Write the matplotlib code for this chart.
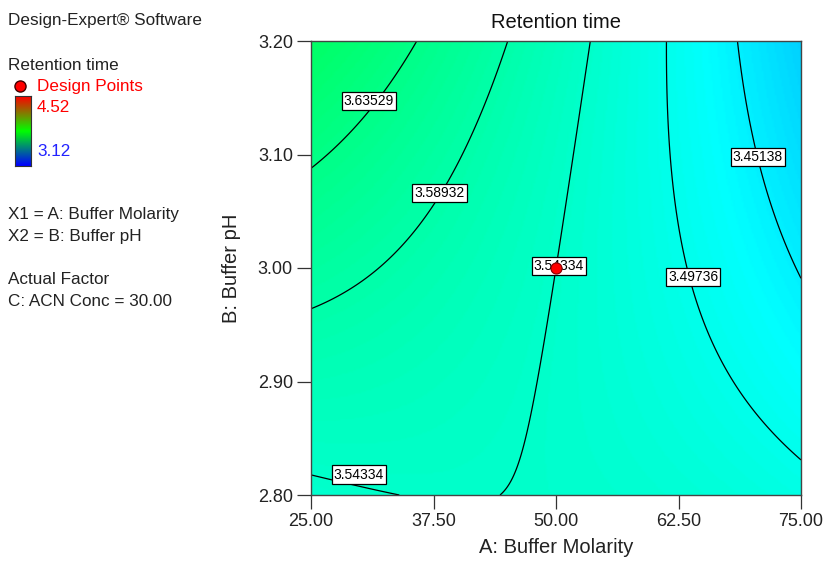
import numpy as np
import matplotlib
matplotlib.use("Agg")
import matplotlib.pyplot as plt
from matplotlib.colors import LinearSegmentedColormap

plt.rcParams['font.family'] = ['Liberation Sans', 'DejaVu Sans']

# ---- data ----
# Quadratic response-surface coefficients in coded units a=(A-50)/25, b=(B-3.00)/0.20
coef_names = ["b0", "A", "B", "AB", "A2", "B2"]
coef_values = [3.54334, -0.07645, 0.0111, -0.061, -0.0178, 0.0085]
contour_levels = [3.45138, 3.49736, 3.54334, 3.58932, 3.63529]
design_A = [50.0]
design_B = [3.00]
A_range = [25.0, 75.0]
B_range = [2.80, 3.20]
A_ticks = [25.0, 37.5, 50.0, 62.5, 75.0]
B_ticks = [2.80, 2.90, 3.00, 3.10, 3.20]
resp_low, resp_high = 3.12, 4.52
# label placements (layout)
label_levels = [3.63529, 3.58932, 3.54334, 3.49736, 3.45138, 3.54334]
label_pos = [(30.9, 3.147), (38.1, 3.066), (50.3, 3.002), (64.0, 2.992), (70.6, 3.098), (29.9, 2.818)]

W, H = 827, 564
fig = plt.figure(figsize=(W / 100, H / 100), dpi=100)
ax = fig.add_axes([311 / W, 1 - 495 / H, 490 / W, 454 / H])

A = np.linspace(A_range[0], A_range[1], 300)
B = np.linspace(B_range[0], B_range[1], 300)
AA, BB = np.meshgrid(A, B)
a = (AA - 50.0) / 25.0
b = (BB - 3.00) / 0.20
c = dict(zip(coef_names, coef_values))
Z = c["b0"] + c["A"] * a + c["B"] * b + c["AB"] * a * b + c["A2"] * a ** 2 + c["B2"] * b ** 2

surf_cmap = LinearSegmentedColormap.from_list(
    "de", ["#0000ff", "#00ffff", "#00ff00", "#ffff00", "#ff0000"])
ax.pcolormesh(AA, BB, Z, cmap=surf_cmap, vmin=resp_low, vmax=resp_high, shading="gouraud")
ax.contour(AA, BB, Z, levels=contour_levels, colors="black", linewidths=0.9)

for lev, (px, py) in zip(label_levels, label_pos):
    ax.text(px, py, f"{lev:.5f}", ha="center", va="center", fontsize=10, zorder=5,
            bbox=dict(boxstyle="square,pad=0.15", facecolor="white", edgecolor="black", linewidth=0.9))

ax.plot(design_A, design_B, "o", color="#ff0000", markeredgecolor="#800000",
        markersize=8, markeredgewidth=0.8, zorder=6)

ax.set_xlim(A_range)
ax.set_ylim(B_range)
ax.set_xticks(A_ticks)
ax.set_yticks(B_ticks)
ax.set_xticklabels([f"{t:.2f}" for t in A_ticks])
ax.set_yticklabels([f"{t:.2f}" for t in B_ticks])
ax.tick_params(direction="out", length=10, width=0.9, labelsize=13, colors="#333333",
               labelcolor="#222222", pad=3)
for s in ax.spines.values():
    s.set_color("#444444")
    s.set_linewidth(1.0)
ax.set_title("Retention time", fontsize=14.5, pad=9, color="#111111")
ax.set_xlabel("A: Buffer Molarity", fontsize=14.5, labelpad=6, color="#222222")
ax.set_ylabel("B: Buffer pH", fontsize=14.5, labelpad=12, color="#222222")

# ---- left side legend / info ----
def ftxt(x, y, s, **kw):
    fig.text(x / W, 1 - y / H, s, va="center", ha="left", **kw)

ftxt(8, 21, "Design-Expert® Software", fontsize=12.3, color="#222222")
ftxt(8, 65, "Retention time", fontsize=12.3, color="#222222")
ftxt(37, 86, "Design Points", fontsize=12.3, color="#ff0000")
ftxt(37, 108, f"{resp_high:.2f}", fontsize=12.3, color="#ff0000")
ftxt(37, 151, f"{resp_low:.2f}", fontsize=12.3, color="#2222ff")
ftxt(8, 215, "X1 = A: Buffer Molarity", fontsize=12.3, color="#222222")
ftxt(8, 237, "X2 = B: Buffer pH", fontsize=12.3, color="#222222")
ftxt(8, 279, "Actual Factor", fontsize=12.3, color="#222222")
ftxt(8, 301, "C: ACN Conc = 30.00", fontsize=12.3, color="#222222")

fig.lines.append(plt.Line2D([20 / W], [1 - 86 / H], marker="o", color="#ff0000",
                            markeredgecolor="#400000", markersize=8, transform=fig.transFigure))

cax = fig.add_axes([15 / W, 1 - 166 / H, 16 / W, 70 / H])
legend_cmap = LinearSegmentedColormap.from_list("lg", ["#0000ff", "#00ff00", "#ff0000"])
cax.imshow(np.linspace(0, 1, 100)[:, None], aspect="auto", origin="lower", cmap=legend_cmap)
cax.set_xticks([])
cax.set_yticks([])
for s in cax.spines.values():
    s.set_color("#333333")

fig.savefig("out.png", dpi=100)
